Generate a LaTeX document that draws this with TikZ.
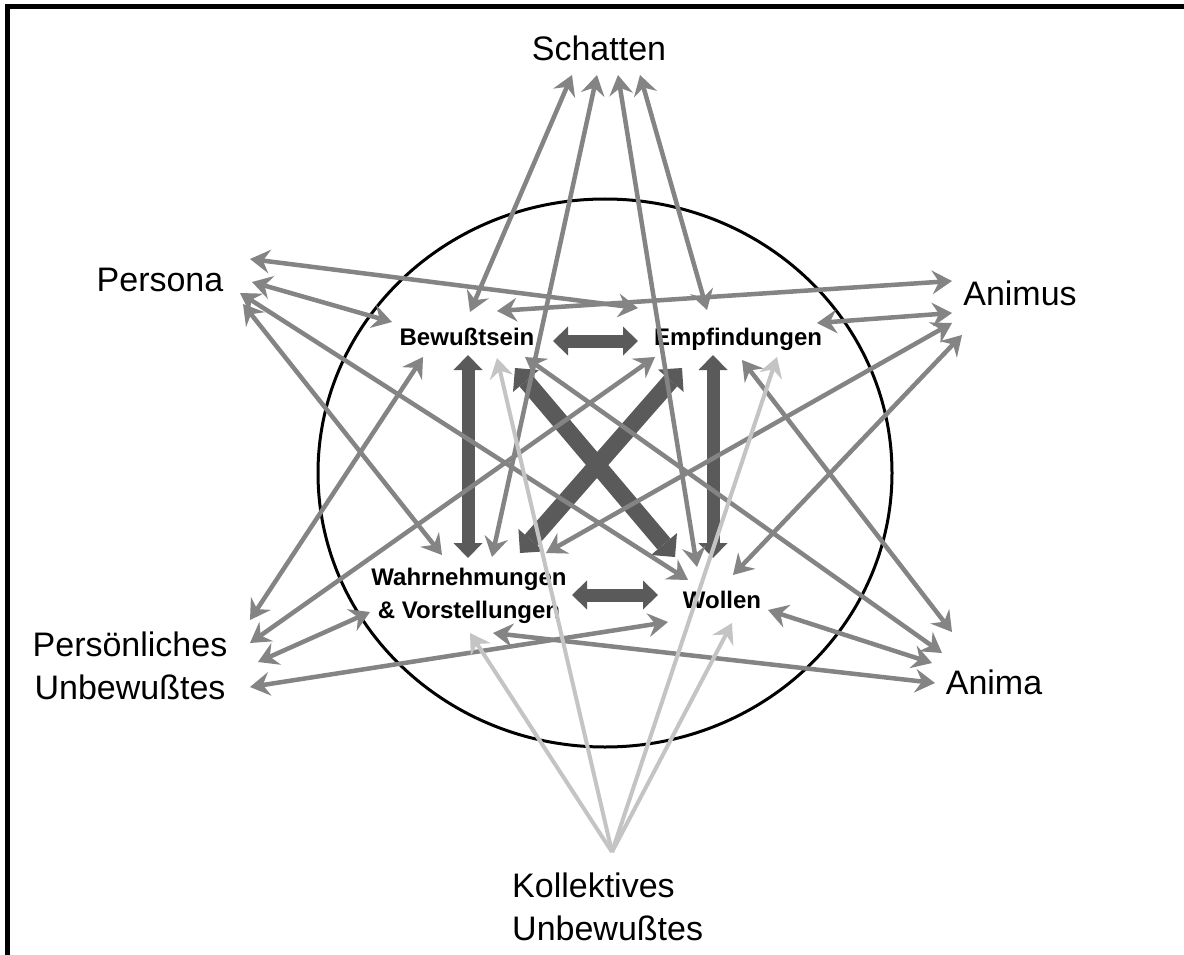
\documentclass[tikz,border=0pt]{standalone}
\usepackage{fontspec}
\setmainfont{Liberation Sans}
\usetikzlibrary{arrows.meta,calc}
\definecolor{gmid}{HTML}{848484}
\definecolor{glight}{HTML}{C4C4C4}
\definecolor{gdark}{HTML}{5A5A5A}
\begin{document}
\begin{tikzpicture}[x=1pt,y=-1pt,
  outer/.style={font=\fontsize{34}{43}\selectfont, inner sep=0pt},
  innerlbl/.style={font=\fontsize{24}{33}\selectfont\bfseries, inner sep=0pt},
  gtip/.tip={Stealth[length=20pt,width=24pt,inset=7pt,line width=0pt]},
  ga/.style={draw=gmid, fill=gmid, line width=4.5pt, gtip-gtip},
  la/.style={draw=glight, fill=glight, line width=4pt, -gtip},
  dtip/.tip={Triangle[length=15pt,width=29pt,line width=0pt]},
  xtip/.tip={Triangle[length=17pt,width=34pt,line width=0pt]},
  da/.style={draw=gdark, fill=gdark, line width=13pt, dtip-dtip},
  dx/.style={draw=gdark, fill=gdark, line width=17pt, xtip-xtip},
]
\useasboundingbox (0,0) rectangle (1184,955);
\fill[white] (0,0) rectangle (1184,955);
\draw[line width=5pt] (7,955) -- (7,6.5) -- (1184,6.5);
\draw[line width=3pt] (605,473) ellipse [x radius=287, y radius=274];

% labels
\node[outer, anchor=base] (schatten) at (599,61) {Schatten};
\node[outer, anchor=base] (persona) at (160,291) {Persona};
\node[outer, anchor=base] (animus) at (1020,305) {Animus};
\node[outer, align=center] (persoen) at (130,666) {Persönliches\\Unbewußtes};
\node[outer, anchor=base] (anima) at (994,694) {Anima};
\node[outer, align=left, anchor=west] (kollektiv) at (512,907) {Kollektives\\Unbewußtes};
\node[innerlbl, anchor=base] (bew) at (467,345) {Bewußtsein};
\node[innerlbl, anchor=base] (empf) at (738,345) {Empfindungen};
\node[innerlbl, align=center] (wahr) at (469,596) {Wahrnehmungen\\\& Vorstellungen};
\node[innerlbl, anchor=base] (woll) at (722,608) {Wollen};

% dark inner arrows
\draw[da] ([shift={(86,-4)}]bew.base) -- ([shift={(-100,-4)}]empf.base);
\draw[da] ([shift={(103,-1)}]wahr.center) -- ([shift={(-64,-13)}]woll.base);
\draw[da] ([shift={(1,10)}]bew.base) -- ([shift={(-1,-38)}]wahr.center);
\draw[da] ([shift={(-25,10)}]empf.base) -- ([shift={(-9,-50)}]woll.base);
\draw[dx] ([shift={(48,23)}]bew.base) -- ([shift={(-47,-51)}]woll.base);
\draw[dx] ([shift={(-56,23)}]empf.base) -- ([shift={(51,-43)}]wahr.center);

% Schatten
\draw[ga] ([shift={(-27,14)}]schatten.base) -- ([shift={(3,-33)}]bew.base);
\draw[ga] ([shift={(-2,14)}]schatten.base) -- ([shift={(23,-39)}]wahr.center);
\draw[ga] ([shift={(19,14)}]schatten.base) -- ([shift={(-25,-41)}]woll.base);
\draw[ga] ([shift={(41,14)}]schatten.base) -- ([shift={(-31,-35)}]empf.base);
% Persona
\draw[ga] ([shift={(90,-32)}]persona.base) -- ([shift={(-100,-37)}]empf.base);
\draw[ga] ([shift={(92,-9)}]persona.base) -- ([shift={(-75,-23)}]bew.base);
\draw[ga] ([shift={(80,2)}]persona.base) -- ([shift={(-34,-28)}]woll.base);
\draw[ga] ([shift={(83,13)}]persona.base) -- ([shift={(-27,-41)}]wahr.center);
% Animus
\draw[ga] ([shift={(-68,-24)}]animus.base) -- ([shift={(30,-34)}]bew.base);
\draw[ga] ([shift={(-68,8)}]animus.base) -- ([shift={(79,-22)}]empf.base);
\draw[ga] ([shift={(-68,18)}]animus.base) -- ([shift={(77,-43)}]wahr.center);
\draw[ga] ([shift={(-58,30)}]animus.base) -- ([shift={(11,-33)}]woll.base);
% Persoenliches Unbewusstes
\draw[ga] ([shift={(120,-46)}]persoen.center) -- ([shift={(-44,12)}]bew.base);
\draw[ga] ([shift={(120,-23)}]persoen.center) -- ([shift={(-83,12)}]empf.base);
\draw[ga] ([shift={(128,-4)}]persoen.center) -- ([shift={(-99,16)}]wahr.center);
\draw[ga] ([shift={(120,21)}]persoen.center) -- ([shift={(-54,14)}]woll.base);
% Anima
\draw[ga] ([shift={(-42,-62)}]anima.base) -- ([shift={(4,15)}]empf.base);
\draw[ga] ([shift={(-52,-41)}]anima.base) -- ([shift={(58,12)}]bew.base);
\draw[ga] ([shift={(-62,-31)}]anima.base) -- ([shift={(46,2)}]woll.base);
\draw[ga] ([shift={(-59,-11)}]anima.base) -- ([shift={(24,37)}]wahr.center);
% Kollektives Unbewusstes
\draw[la] ([shift={(100,-55)}]kollektiv.west) -- ([shift={(30,13)}]bew.base);
\draw[la] ([shift={(100,-55)}]kollektiv.west) -- ([shift={(39,12)}]empf.base);
\draw[la] ([shift={(100,-55)}]kollektiv.west) -- ([shift={(1,37)}]wahr.center);
\draw[la] ([shift={(100,-55)}]kollektiv.west) -- ([shift={(10,15)}]woll.base);
\end{tikzpicture}
\end{document}
